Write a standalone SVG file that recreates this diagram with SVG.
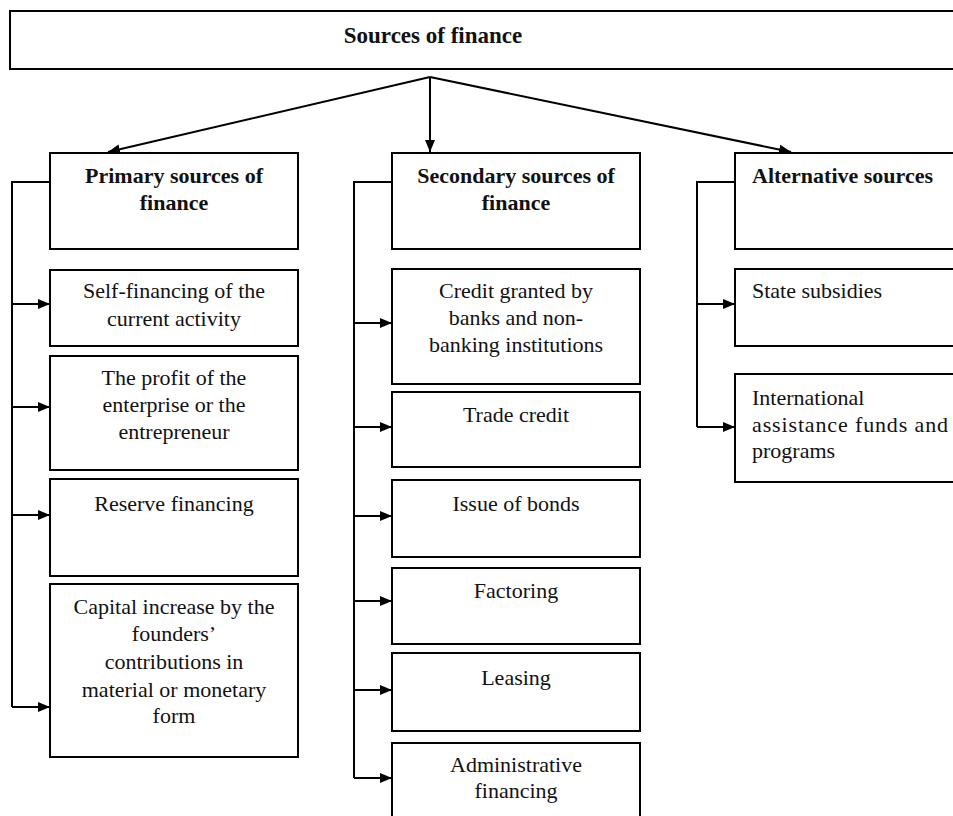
<svg xmlns="http://www.w3.org/2000/svg" width="953" height="816" viewBox="0 0 953 816">
<style>
.box{fill:#fff;stroke:#000;stroke-width:2}
.ln{fill:none;stroke:#000;stroke-width:2}
.t{font-family:"Liberation Serif","Times New Roman",serif;font-size:22px;fill:#111}
.c{text-anchor:middle}
.b{font-weight:bold}
.top{font-size:23px}
</style>
<defs>
<marker id="ah" markerUnits="userSpaceOnUse" markerWidth="13" markerHeight="10" refX="12" refY="5" orient="auto">
<path d="M0,0 L12,5 L0,10 z" fill="#000"/>
</marker>
</defs>
<rect width="953" height="816" fill="#fff"/>

<g id="connectors">
<path class="ln" d="M430,77 L108,152" marker-end="url(#ah)"/>
<path class="ln" d="M430,77 L430,152" marker-end="url(#ah)"/>
<path class="ln" d="M430,77 L791,152" marker-end="url(#ah)"/>
<path class="ln" d="M50,182 H12 V707"/>
<path class="ln" d="M12,304 H50" marker-end="url(#ah)"/>
<path class="ln" d="M12,407 H50" marker-end="url(#ah)"/>
<path class="ln" d="M12,515 H50" marker-end="url(#ah)"/>
<path class="ln" d="M12,707 H50" marker-end="url(#ah)"/>
<path class="ln" d="M392,182 H354 V778"/>
<path class="ln" d="M354,323 H392" marker-end="url(#ah)"/>
<path class="ln" d="M354,427 H392" marker-end="url(#ah)"/>
<path class="ln" d="M354,516 H392" marker-end="url(#ah)"/>
<path class="ln" d="M354,601 H392" marker-end="url(#ah)"/>
<path class="ln" d="M354,690 H392" marker-end="url(#ah)"/>
<path class="ln" d="M354,778 H392" marker-end="url(#ah)"/>
<path class="ln" d="M735,182 H697 V427"/>
<path class="ln" d="M697,304 H735" marker-end="url(#ah)"/>
<path class="ln" d="M697,427 H735" marker-end="url(#ah)"/>
</g>

<g id="sources">
<rect class="box" x="10" y="11" width="960" height="58"/>
<text class="t c b top" x="433" y="43">Sources of finance</text>
</g>

<g id="primary">
<rect class="box" x="50" y="153" width="248" height="96"/>
<text class="t c b" x="174" y="183">Primary sources of</text>
<text class="t c b" x="174" y="210">finance</text>
</g>
<g id="self-financing">
<rect class="box" x="50" y="270" width="248" height="76"/>
<text class="t c" x="174" y="298">Self-financing of the</text>
<text class="t c" x="174" y="326">current activity</text>
</g>
<g id="profit">
<rect class="box" x="50" y="356" width="248" height="114"/>
<text class="t c" x="174" y="385">The profit of the</text>
<text class="t c" x="174" y="412">enterprise or the</text>
<text class="t c" x="174" y="439">entrepreneur</text>
</g>
<g id="reserve">
<rect class="box" x="50" y="479" width="248" height="97"/>
<text class="t c" x="174" y="511">Reserve financing</text>
</g>
<g id="capital">
<rect class="box" x="50" y="584" width="248" height="173"/>
<text class="t c" x="174" y="614">Capital increase by the</text>
<text class="t c" x="174" y="641">founders’</text>
<text class="t c" x="174" y="669">contributions in</text>
<text class="t c" x="174" y="697">material or monetary</text>
<text class="t c" x="174" y="723">form</text>
</g>

<g id="secondary">
<rect class="box" x="392" y="153" width="248" height="96"/>
<text class="t c b" x="516" y="183">Secondary sources of</text>
<text class="t c b" x="516" y="210">finance</text>
</g>
<g id="credit">
<rect class="box" x="392" y="269" width="248" height="115"/>
<text class="t c" x="516" y="298">Credit granted by</text>
<text class="t c" x="516" y="325">banks and non-</text>
<text class="t c" x="516" y="352">banking institutions</text>
</g>
<g id="trade">
<rect class="box" x="392" y="392" width="248" height="75"/>
<text class="t c" x="516" y="422">Trade credit</text>
</g>
<g id="bonds">
<rect class="box" x="392" y="480" width="248" height="77"/>
<text class="t c" x="516" y="511">Issue of bonds</text>
</g>
<g id="factoring">
<rect class="box" x="392" y="568" width="248" height="76"/>
<text class="t c" x="516" y="598">Factoring</text>
</g>
<g id="leasing">
<rect class="box" x="392" y="653" width="248" height="78"/>
<text class="t c" x="516" y="685">Leasing</text>
</g>
<g id="administrative">
<rect class="box" x="392" y="743" width="248" height="90"/>
<text class="t c" x="516" y="772">Administrative</text>
<text class="t c" x="516" y="798">financing</text>
</g>

<g id="alternative">
<rect class="box" x="735" y="153" width="230" height="96"/>
<text class="t b" x="752" y="183">Alternative sources</text>
</g>
<g id="state">
<rect class="box" x="735" y="269" width="230" height="77"/>
<text class="t" x="752" y="298">State subsidies</text>
</g>
<g id="international">
<rect class="box" x="735" y="374" width="230" height="108"/>
<text class="t" x="752" y="405">International</text>
<text class="t" x="752" y="432" textLength="196" lengthAdjust="spacing">assistance funds and</text>
<text class="t" x="752" y="458">programs</text>
</g>
</svg>
